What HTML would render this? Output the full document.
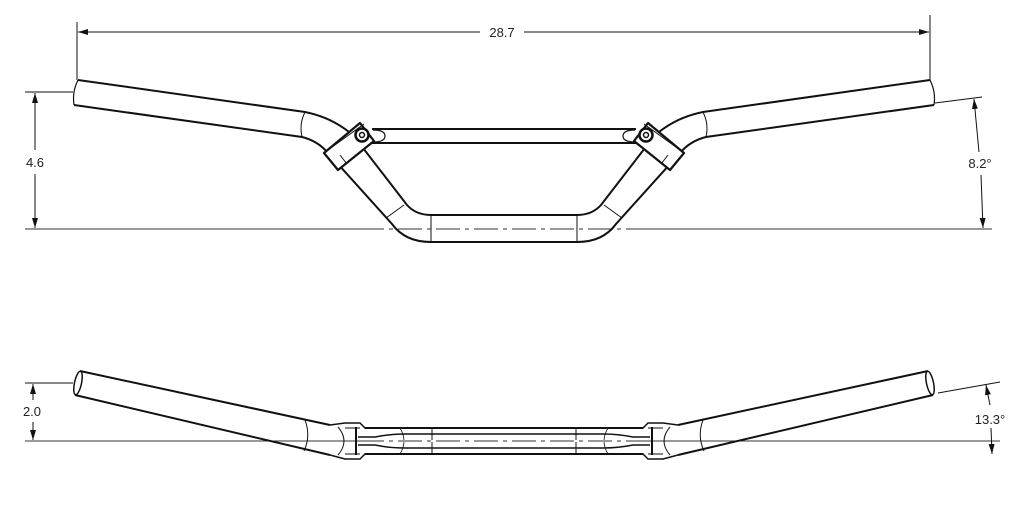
<!DOCTYPE html>
<html><head><meta charset="utf-8"><style>
html,body{margin:0;padding:0;background:#fff;width:1032px;height:506px;overflow:hidden}
svg{display:block}
text{font-family:"Liberation Sans",sans-serif;font-size:13px;fill:#222}
</style></head><body>
<svg width="1032" height="506" viewBox="0 0 1032 506" xmlns="http://www.w3.org/2000/svg">
<defs>
<marker id="ar" markerWidth="10" markerHeight="6" refX="10" refY="3" orient="auto" markerUnits="userSpaceOnUse">
<path d="M0,0 L10,3 L0,6 z" fill="#111"/></marker>
<g id="topL" fill="none" stroke="#111" stroke-width="2">
  <path d="M78,80 L305,112 Q330,117 349,132"/>
  <path d="M74,105 L302,137 Q318,141 328,153"/>
  <path d="M78,80 Q72,92 74,105" stroke-width="1.2"/>
  <path d="M305,112 Q299,124 302,137" stroke-width="1"/>
  <path d="M340.6,166.9 L392,224 Q405,242 431,242 L504,242"/>
  <path d="M363.5,148.6 L407,205 Q416,215 431,215 L504,215"/>
  <path d="M386,218 L404,205" stroke-width="1"/>
  <line x1="431" y1="215" x2="431" y2="242" stroke-width="1"/>
  <line x1="372" y1="129" x2="504" y2="129"/>
  <line x1="372" y1="143" x2="504" y2="143"/>
  <path d="M373,130 Q385,130 385,136 Q385,142 373,142" stroke-width="1.2"/>
  <polygon points="360,123 374,141 338,170 324,153" stroke-linejoin="round" stroke-width="2.2" fill="#fff"/>
  <line x1="328" y1="150" x2="364" y2="124" stroke-width="1"/>
  <line x1="340" y1="155" x2="347" y2="164" stroke-width="1"/>
  <circle cx="362" cy="135" r="6.5" stroke-width="2.5" fill="#fff"/>
  <circle cx="362" cy="135" r="2.5" stroke-width="1.5"/>
</g>
<g id="botL" fill="none" stroke="#111" stroke-width="2">
  <path d="M80,371 L330,425"/>
  <path d="M75,395 L330,455"/>
  <ellipse cx="78" cy="383" rx="3.5" ry="12" stroke-width="1.5" transform="rotate(12 78 383)"/>
  <path d="M305,420 Q311,436 304,451" stroke-width="1"/>
  <path d="M330,425 L345,423 L360,423 L365,428 L375,428 M375,454 L365,454 L360,459 L345,459 L330,455" stroke-width="1.5"/>
  <line x1="356" y1="427" x2="356" y2="455" stroke-width="2"/>
  <path d="M338,427 Q350,441 338,455" stroke-width="1"/>
  <line x1="345" y1="428" x2="360" y2="428" stroke-width="1"/>
  <line x1="345" y1="454" x2="360" y2="454" stroke-width="1"/>
  <line x1="365" y1="428" x2="504" y2="428"/>
  <line x1="365" y1="454" x2="504" y2="454"/>
  <path d="M358,437 L375,437 Q390,434 405,434 L504,434" stroke-width="1.5"/>
  <path d="M358,445 L375,445 Q390,448 405,448 L504,448" stroke-width="1.5"/>
  <path d="M400,428 Q408,441 400,454" stroke-width="0.8"/>
  <line x1="432" y1="428" x2="432" y2="454" stroke-width="1"/>
</g>
</defs>

<!-- TOP VIEW -->
<line x1="25" y1="229" x2="992" y2="229" stroke="#333" stroke-width="1"/>
<line x1="360" y1="229" x2="650" y2="229" stroke="#fff" stroke-width="2"/>
<line x1="360" y1="229" x2="650" y2="229" stroke="#333" stroke-width="1" stroke-dasharray="24,5,4,5"/>
<use href="#topL"/>
<use href="#topL" transform="translate(1008,0) scale(-1,1)"/>
<!-- 28.7 -->
<line x1="77" y1="22" x2="77" y2="80" stroke="#111" stroke-width="1"/>
<line x1="930" y1="15" x2="930" y2="80" stroke="#111" stroke-width="1"/>
<line x1="480" y1="32" x2="78" y2="32" stroke="#111" stroke-width="1" marker-end="url(#ar)"/>
<line x1="524" y1="32" x2="929" y2="32" stroke="#111" stroke-width="1" marker-end="url(#ar)"/>
<text x="502" y="37" text-anchor="middle">28.7</text>
<!-- 4.6 -->
<line x1="25" y1="92" x2="73" y2="92" stroke="#111" stroke-width="1"/>
<line x1="35" y1="150" x2="35" y2="93" stroke="#111" stroke-width="1" marker-end="url(#ar)"/>
<line x1="35" y1="174" x2="35" y2="228" stroke="#111" stroke-width="1" marker-end="url(#ar)"/>
<text x="35" y="167" text-anchor="middle">4.6</text>
<!-- 8.2° -->
<line x1="935" y1="103" x2="982" y2="97" stroke="#111" stroke-width="1"/>
<line x1="979" y1="152" x2="974" y2="99" stroke="#111" stroke-width="1" marker-end="url(#ar)"/>
<line x1="981" y1="175" x2="983" y2="228" stroke="#111" stroke-width="1" marker-end="url(#ar)"/>
<text x="980" y="168" text-anchor="middle">8.2°</text>

<!-- BOTTOM VIEW -->
<line x1="25" y1="441" x2="1000" y2="441" stroke="#333" stroke-width="1"/>
<use href="#botL"/>
<use href="#botL" transform="translate(1008,0) scale(-1,1)"/>
<line x1="360" y1="441" x2="650" y2="441" stroke="#fff" stroke-width="2"/>
<line x1="360" y1="441" x2="650" y2="441" stroke="#333" stroke-width="1" stroke-dasharray="24,5,4,5"/>
<!-- 2.0 -->
<line x1="25" y1="383" x2="73" y2="383" stroke="#111" stroke-width="1"/>
<line x1="33" y1="400" x2="33" y2="384" stroke="#111" stroke-width="1" marker-end="url(#ar)"/>
<line x1="33" y1="422" x2="33" y2="440" stroke="#111" stroke-width="1" marker-end="url(#ar)"/>
<text x="32" y="416" text-anchor="middle">2.0</text>
<!-- 13.3° -->
<line x1="938" y1="393" x2="1000" y2="382" stroke="#111" stroke-width="1"/>
<line x1="990" y1="405" x2="986" y2="385" stroke="#111" stroke-width="1" marker-end="url(#ar)"/>
<line x1="991" y1="428" x2="992" y2="454" stroke="#111" stroke-width="1" marker-end="url(#ar)"/>
<text x="990" y="424" text-anchor="middle">13.3°</text>
</svg>
</body></html>
